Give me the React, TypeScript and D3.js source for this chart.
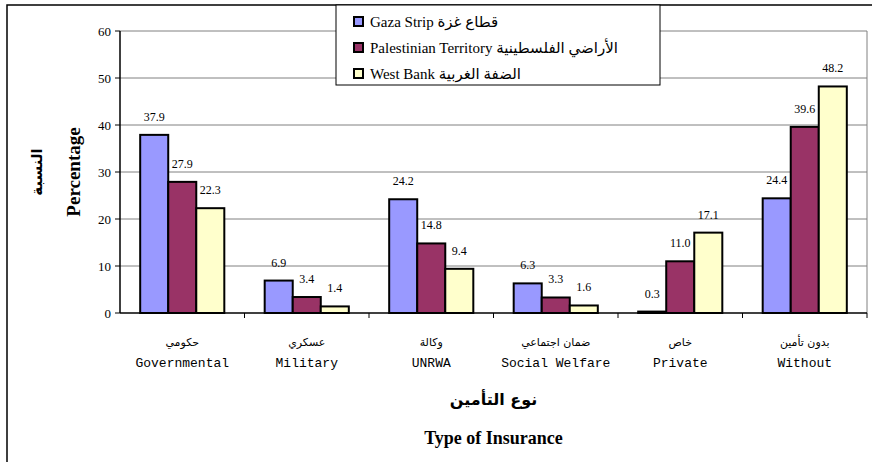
import React from 'react';
import * as d3 from 'd3';

const categoriesEn = ['Governmental', 'Military', 'UNRWA', 'Social Welfare', 'Private', 'Without'];
const categoriesAr = ['حكومي', 'عسكري', 'وكالة', 'ضمان اجتماعي', 'خاص', 'بدون تأمين'];
const seriesKeys = ['gaza', 'pt', 'wb'];
const seriesLabels = ['Gaza Strip قطاع غزة', 'Palestinian Territory الأراضي الفلسطينية', 'West Bank الضفة الغربية'];
const seriesColors = ['#9999FF', '#993366', '#FFFFCC'];
const gazaValues = [37.9, 6.9, 24.2, 6.3, 0.3, 24.4];
const ptValues = [27.9, 3.4, 14.8, 3.3, 11.0, 39.6];
const wbValues = [22.3, 1.4, 9.4, 1.6, 17.1, 48.2];
const yTicks = [0, 10, 20, 30, 40, 50, 60];

const serif = '"Liberation Serif", "Times New Roman", "DejaVu Sans", serif';
const mono = '"Liberation Mono", "Courier New", "DejaVu Sans Mono", monospace';
const arabic = '"DejaVu Sans", "Liberation Sans", sans-serif';

export default function App() {
  const W = 872;
  const H = 462;
  const plot = { left: 120, right: 867, top: 31, bottom: 313 };
  const midX = (plot.left + plot.right) / 2;
  const midY = (plot.top + plot.bottom) / 2;

  const allValues = [gazaValues, ptValues, wbValues];

  const x = d3.scaleBand<string>().domain(categoriesEn).range([plot.left, plot.right]);
  const x1 = d3.scaleBand<string>().domain(seriesKeys).range([0, x.bandwidth()]).paddingOuter(0.72);
  const y = d3.scaleLinear().domain([0, 60]).range([plot.bottom, plot.top]);

  return (
    <svg width={W} height={H} style={{ position: 'absolute', left: 0, top: 0, background: '#fff' }}>
      {/* outer frame */}
      <rect x={7} y={5} width={W + 20} height={H + 20} fill="#fff" stroke="#000" strokeWidth={1.5} />

      {/* gridlines */}
      {yTicks.filter(t => t > 0).map(t => (
        <line key={t} x1={plot.left} x2={plot.right} y1={y(t)} y2={y(t)} stroke="#808080" strokeWidth={1} />
      ))}
      <line x1={plot.right} x2={plot.right} y1={plot.top} y2={plot.bottom} stroke="#808080" strokeWidth={1} />

      {/* bars */}
      {categoriesEn.map((c, i) => (
        <g key={c} transform={`translate(${x(c)},0)`}>
          {seriesKeys.map((s, k) => {
            const v = allValues[k][i];
            const bx = x1(s) as number;
            return (
              <g key={s}>
                <rect x={bx} y={y(v)} width={x1.bandwidth()} height={y(0) - y(v)}
                  fill={seriesColors[k]} stroke="#000" strokeWidth={2} />
                <text x={bx + x1.bandwidth() / 2} y={y(v) - 14} textAnchor="middle"
                  fontFamily={serif} fontSize={12} fill="#000">{v.toFixed(1)}</text>
              </g>
            );
          })}
        </g>
      ))}

      {/* y axis */}
      <line x1={plot.left} x2={plot.left} y1={plot.top} y2={plot.bottom} stroke="#000" strokeWidth={1.5} />
      {yTicks.map(t => (
        <g key={t}>
          <line x1={plot.left - 5} x2={plot.left} y1={y(t)} y2={y(t)} stroke="#000" />
          <text x={plot.left - 9} y={y(t)} dy="0.35em" textAnchor="end" fontFamily={serif} fontSize={13}>{t}</text>
        </g>
      ))}

      {/* x axis */}
      <line x1={plot.left} x2={plot.right} y1={plot.bottom} y2={plot.bottom} stroke="#000" strokeWidth={1.5} />
      {categoriesEn.map(c => (
        <line key={c} x1={(x(c) as number) + x.bandwidth()} x2={(x(c) as number) + x.bandwidth()}
          y1={plot.bottom} y2={plot.bottom + 5} stroke="#000" />
      ))}
      {categoriesEn.map((c, i) => {
        const cx = (x(c) as number) + x.bandwidth() / 2;
        return (
          <g key={c}>
            <text x={cx} y={346} textAnchor="middle" fontFamily={arabic} fontSize={11}>{categoriesAr[i]}</text>
            <text x={cx} y={367} textAnchor="middle" fontFamily={mono} fontSize={13}>{c}</text>
          </g>
        );
      })}

      {/* axis titles */}
      <text x={midX} y={405} textAnchor="middle" fontFamily={arabic} fontWeight="bold" fontSize={16}>نوع التأمين</text>
      <text x={midX} y={444} textAnchor="middle" fontFamily={serif} fontWeight="bold" fontSize={18}>Type of Insurance</text>
      <text transform={`translate(80,${midY}) rotate(-90)`} textAnchor="middle"
        fontFamily={serif} fontWeight="bold" fontSize={19}>Percentage</text>
      <text transform={`translate(42,${midY}) rotate(-90)`} textAnchor="middle"
        fontFamily={arabic} fontWeight="bold" fontSize={15}>النسبة</text>

      {/* legend */}
      <rect x={336} y={5} width={324} height={80} fill="#fff" stroke="#000" strokeWidth={1} />
      {seriesLabels.map((l, k) => (
        <g key={l} transform={`translate(354,${22 + k * 26})`}>
          <rect x={0} y={-5} width={9} height={9} fill={seriesColors[k]} stroke="#000" strokeWidth={2} />
          <text x={16} y={0} dy="0.35em" fontFamily={serif} fontSize={15}>{l}</text>
        </g>
      ))}
    </svg>
  );
}
